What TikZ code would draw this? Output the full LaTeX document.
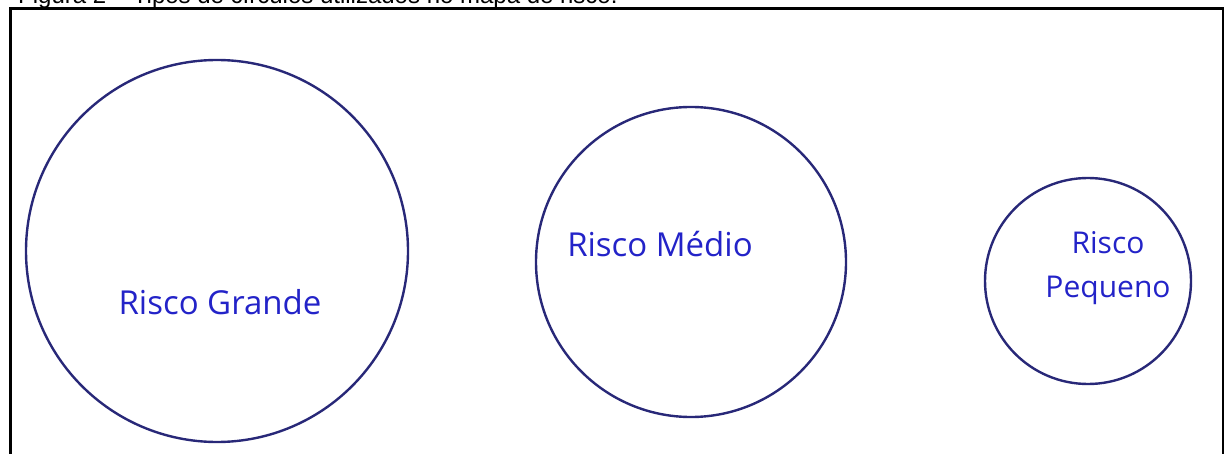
\documentclass[tikz,border=0pt]{standalone}
\usepackage{fontspec}
\setmainfont{Liberation Sans}
\newfontfamily\labelfont{Open Sans}
\definecolor{ringcol}{RGB}{40,40,120}
\definecolor{textcol}{RGB}{35,35,200}
\begin{document}
\begin{tikzpicture}[x=1pt,y=-1pt,
  ring/.style={draw=ringcol,line width=2.4pt,circle,inner sep=0pt},
  rlabel/.style={text=textcol,font=\labelfont\fontsize{33}{42}\selectfont,align=center,inner sep=0pt},
  frame/.style={draw=black,line width=2.5pt}]
\useasboundingbox (0,0) rectangle (1228,454);
\node[anchor=base west,font=\fontsize{24}{28}\selectfont,inner sep=0pt] (cap) at (18,4) {Figura 2 -- Tipos de círculos utilizados no mapa de risco.};
\draw[frame] (10.5,470) -- (10.5,8.5) -- (1223,8.5) -- (1223,470);
\node[ring,minimum size=382pt] (big) at (217,251) {};
\node[ring,minimum size=310pt] (mid) at (691,262) {};
\node[ring,minimum size=206pt] (small) at (1088,281) {};
\node[rlabel] (lbig) at (220,302) {Risco Grande};
\node[rlabel] (lmid) at (660,244) {Risco Médio};
\node[rlabel,font=\labelfont\fontsize{30}{42}\selectfont] (lsmall) at (1108,268) {Risco\\[2pt]Pequeno};
\end{tikzpicture}
\end{document}
